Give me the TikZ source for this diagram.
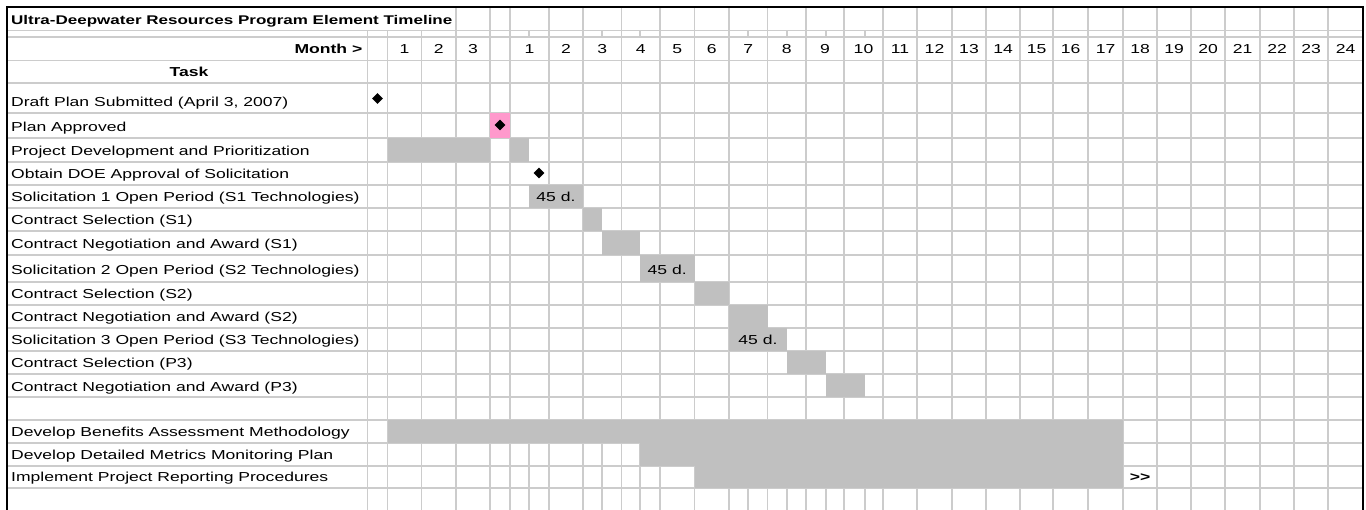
\documentclass[tikz,border=0pt]{standalone}
\usepackage{fontspec}
\setmainfont{Liberation Sans}[FakeStretch=1.35]
\usetikzlibrary{shapes.geometric}
\definecolor{sheetGrid}{HTML}{CCCCCC}
\definecolor{sheetBar}{HTML}{C0C0C0}
\definecolor{sheetPink}{HTML}{FF99CC}
\newcommand{\sheetfont}{\fontsize{13pt}{15pt}\selectfont}
\tikzset{
  grid line/.style={draw=sheetGrid, line width=1.2pt},
  frame line/.style={draw=black, line width=2pt},
  task bar/.style={fill=sheetBar},
  approved cell/.style={fill=sheetPink},
  milestone/.style={diamond, fill=black, inner sep=0pt, minimum size=11pt},
  task label/.style={anchor=base west, inner sep=0pt, font=\sheetfont},
  month label/.style={anchor=base, inner sep=0pt, font=\sheetfont},
  head label/.style={inner sep=0pt, font=\sheetfont\bfseries},
  bar label/.style={anchor=base, inner sep=0pt, font=\sheetfont}
}
\begin{document}
\begin{tikzpicture}[x=1pt, y=-1pt]
  \useasboundingbox[fill=white] (0,0) rectangle (1366,510);
  \foreach \y in {30.5,37,60.5,83,113,138,162,185,208,231,255,282,305,328,351,374,397,420,443,466,488}
    \draw[grid line] (7,\y) -- (1363,\y);
  \foreach \x in {367.5,387.5,421.7}
    \draw[grid line] (\x,30.5) -- (\x,510);
  \foreach \x in {456,490,510,549,583,621.7,660,694.5,729,767.5,806,844,883,917,952,986,1020,1053,1088,1123,1157,1191,1225,1260,1294,1328}
    \draw[grid line] (\x,7) -- (\x,510);
  \foreach \x in {529,602,640,748,787,826,865} {
    \draw[grid line] (\x,30.5) -- (\x,37);
    \draw[grid line] (\x,443) -- (\x,510);
  }
  \fill[approved cell] (490,113) rectangle (510,138);
  \fill[task bar] (387.5,138) rectangle (490,162);
  \fill[task bar] (510,138) rectangle (529,162);
  \fill[task bar] (529,185) rectangle (583,208);
  \fill[task bar] (583,208) rectangle (602,231);
  \fill[task bar] (602,231) rectangle (640,255);
  \fill[task bar] (640,255) rectangle (694.5,282);
  \fill[task bar] (694.5,282) rectangle (729,305);
  \fill[task bar] (729,305) rectangle (767.5,328);
  \fill[task bar] (729,328) rectangle (787,351);
  \fill[task bar] (787,351) rectangle (826,374);
  \fill[task bar] (826,374) rectangle (865,397);
  \fill[task bar] (387.5,420) rectangle (1123,443);
  \fill[task bar] (640,443) rectangle (1123,466);
  \fill[task bar] (694.5,466) rectangle (1123,488);
  \draw[frame line] (7,510) -- (7,7) -- (1363,7) -- (1363,510);

  \node[head label, anchor=base west, font=\fontsize{12.6pt}{15pt}\selectfont\bfseries] (title) at (11,25) {Ultra-Deepwater Resources Program Element Timeline};
  \node[head label, anchor=base east] (month) at (362.5,54) {Month >};
  \node[head label, anchor=base] (task) at (189,76.5) {Task};
  \foreach \a/\b/\m in {387.5/421.7/1, 421.7/456/2, 456/490/3}
    \node[month label] (pre\m) at ({(\a+\b)/2},54) {\m};
  \foreach \a/\b [count=\m] in {510/549, 549/583, 583/621.7, 621.7/660, 660/694.5, 694.5/729, 729/767.5, 767.5/806, 806/844, 844/883, 883/917, 917/952, 952/986, 986/1020, 1020/1053, 1053/1088, 1088/1123, 1123/1157, 1157/1191, 1191/1225, 1225/1260, 1260/1294, 1294/1328, 1328/1363}
    \node[month label] (mon\m) at ({(\a+\b)/2},54) {\m};

  \node[task label] (draft) at (11,106.5) {Draft Plan Submitted (April 3, 2007)};
  \node[task label] (approved) at (11,131.5) {Plan Approved};
  \node[task label] (develop) at (11,155.5) {Project Development and Prioritization};
  \node[task label] (doe) at (11,178.5) {Obtain DOE Approval of Solicitation};
  \node[task label] (solA) at (11,201.5) {Solicitation 1 Open Period (S1 Technologies)};
  \node[task label] (selA) at (11,224.5) {Contract Selection (S1)};
  \node[task label] (awardA) at (11,248.5) {Contract Negotiation and Award (S1)};
  \node[task label] (solB) at (11,275) {Solicitation 2 Open Period (S2 Technologies)};
  \node[task label] (selB) at (11,298.5) {Contract Selection (S2)};
  \node[task label] (awardB) at (11,321.5) {Contract Negotiation and Award (S2)};
  \node[task label] (solC) at (11,344.5) {Solicitation 3 Open Period (S3 Technologies)};
  \node[task label] (selC) at (11,367.5) {Contract Selection (P3)};
  \node[task label] (awardC) at (11,391.5) {Contract Negotiation and Award (P3)};
  \node[task label] (benefits) at (11,436.5) {Develop Benefits Assessment Methodology};
  \node[task label] (metrics) at (11,459.5) {Develop Detailed Metrics Monitoring Plan};
  \node[task label] (reporting) at (11,481.5) {Implement Project Reporting Procedures};

  \node[milestone] (draftMark) at (377.5,98.5) {};
  \node[milestone] (approvedMark) at (500,125) {};
  \node[milestone] (doeMark) at (539,173) {};
  \node[bar label] (daysA) at (556,201.5) {45 d.};
  \node[bar label] (daysB) at (667.25,275) {45 d.};
  \node[bar label] (daysC) at (758,344.5) {45 d.};
  \node[head label, anchor=base] (more) at (1140,481.5) {>{}>};
\end{tikzpicture}
\end{document}
